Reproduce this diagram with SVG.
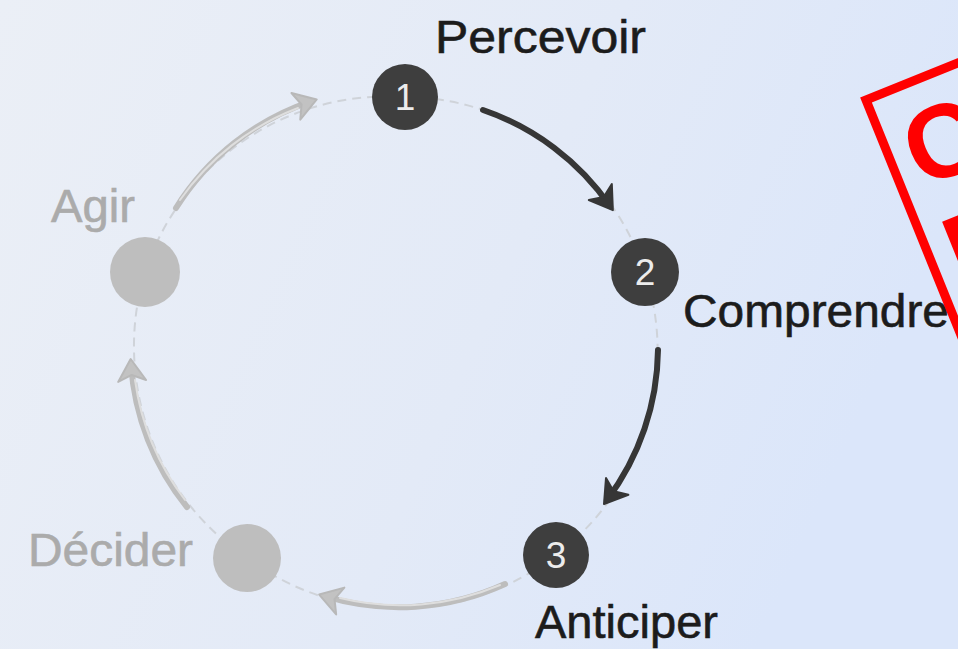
<svg xmlns="http://www.w3.org/2000/svg" width="958" height="649" viewBox="0 0 958 649">
<defs>
<linearGradient id="bg" x1="0" y1="0" x2="1" y2="0.3">
<stop offset="0" stop-color="#ebeff6"/>
<stop offset="0.6" stop-color="#e3eaf7"/>
<stop offset="1" stop-color="#dbe6fa"/>
</linearGradient>
<marker id="headDark" markerUnits="userSpaceOnUse" markerWidth="50" markerHeight="50" refX="0" refY="0" viewBox="-25 -25 50 50" orient="auto" overflow="visible">
<path d="M5,0 L-17,-14 L-11,0 L-17,14 Z" fill="#363636" stroke="#363636" stroke-width="2" stroke-linejoin="round"/>
</marker>
<marker id="headGray" markerUnits="userSpaceOnUse" markerWidth="50" markerHeight="50" refX="0" refY="0" viewBox="-25 -25 50 50" orient="auto" overflow="visible">
<path d="M5,0 L-17,-14 L-11,0 L-17,14 Z" fill="#c2c2c2" stroke="#b8b8b8" stroke-width="2" stroke-linejoin="round"/>
</marker>
</defs>
<style>
.lbl{font-family:"Liberation Sans",Arial,sans-serif;font-size:46px;stroke-width:0.6px}
.dark{fill:#1c1c1c;stroke:#1c1c1c}
.gray{fill:#ababab;stroke:#ababab}
.num{font-family:"Liberation Sans",Arial,sans-serif;font-size:37px;fill:#ececec;text-anchor:middle}
.ndark{fill:#3e3e3e}
.ngray{fill:#bebebe}
.dash{fill:none;stroke:#cfd3d9;stroke-width:2;stroke-dasharray:9 6}
.adark{fill:none;stroke:#363636;stroke-width:6;stroke-linecap:round;marker-end:url(#headDark)}
.agray{fill:none;stroke:#bdbdbd;stroke-width:6;stroke-linecap:round;marker-end:url(#headGray)}
.ahl{fill:none;stroke:#dedede;stroke-width:2;stroke-linecap:round}
.stamp{fill:#ff0000;font-family:"Liberation Sans",Arial,sans-serif;font-weight:bold;font-size:104px}
</style>
<rect width="958" height="649" fill="url(#bg)"/>
<g id="connectors">
<path class="dash" d="M405,97 A255,255 0 0,1 645,272 A255,255 0 0,1 556,555 A255,255 0 0,1 247,558 A255,255 0 0,1 145,272 A255,255 0 0,1 405,97"/>
<path id="e12" class="adark" d="M483,110 A255,255 0 0,1 610,206"/>
<path id="e23" class="adark" d="M658,350 A255,255 0 0,1 607,500"/>
<path id="e34" class="agray" d="M505,584 A255,255 0 0,1 324,596"/>
<path class="ahl" d="M500,585 A255,255 0 0,1 340,598"/>
<path id="e45" class="agray" d="M187,507 A255,255 0 0,1 131,364"/>
<path class="ahl" d="M185,500 A255,255 0 0,1 135,380"/>
<path id="e51" class="agray" d="M176,208 A255,255 0 0,1 312,101"/>
<path class="ahl" d="M180,200 A255,255 0 0,1 298,108"/>
</g>
<g id="node1">
<circle class="ndark" cx="405" cy="97" r="33"/>
<text class="num" x="405" y="110">1</text>
<text class="lbl dark" x="435" y="53" textLength="211" lengthAdjust="spacingAndGlyphs">Percevoir</text>
</g>
<g id="node2">
<circle class="ndark" cx="645" cy="272" r="34"/>
<text class="num" x="645" y="285">2</text>
<text class="lbl dark" x="683" y="327" textLength="266" lengthAdjust="spacingAndGlyphs">Comprendre</text>
</g>
<g id="node3">
<circle class="ndark" cx="556" cy="555" r="33"/>
<text class="num" x="556" y="568">3</text>
<text class="lbl dark" x="535" y="638" textLength="183" lengthAdjust="spacingAndGlyphs">Anticiper</text>
</g>
<g id="node4">
<circle class="ngray" cx="247" cy="558" r="34"/>
<text class="lbl gray" x="28" y="566" textLength="165" lengthAdjust="spacingAndGlyphs">Décider</text>
</g>
<g id="node5">
<circle class="ngray" cx="145" cy="272" r="35"/>
<text class="lbl gray" x="51" y="222" textLength="84" lengthAdjust="spacingAndGlyphs">Agir</text>
</g>
<g id="stamp" transform="translate(866,100) rotate(-22)">
<rect x="0" y="0" width="420" height="300" fill="none" stroke="#ff0000" stroke-width="9"/>
<text class="stamp" x="18" y="103">C</text>
<text class="stamp" x="18" y="213">F</text>
</g>
</svg>
